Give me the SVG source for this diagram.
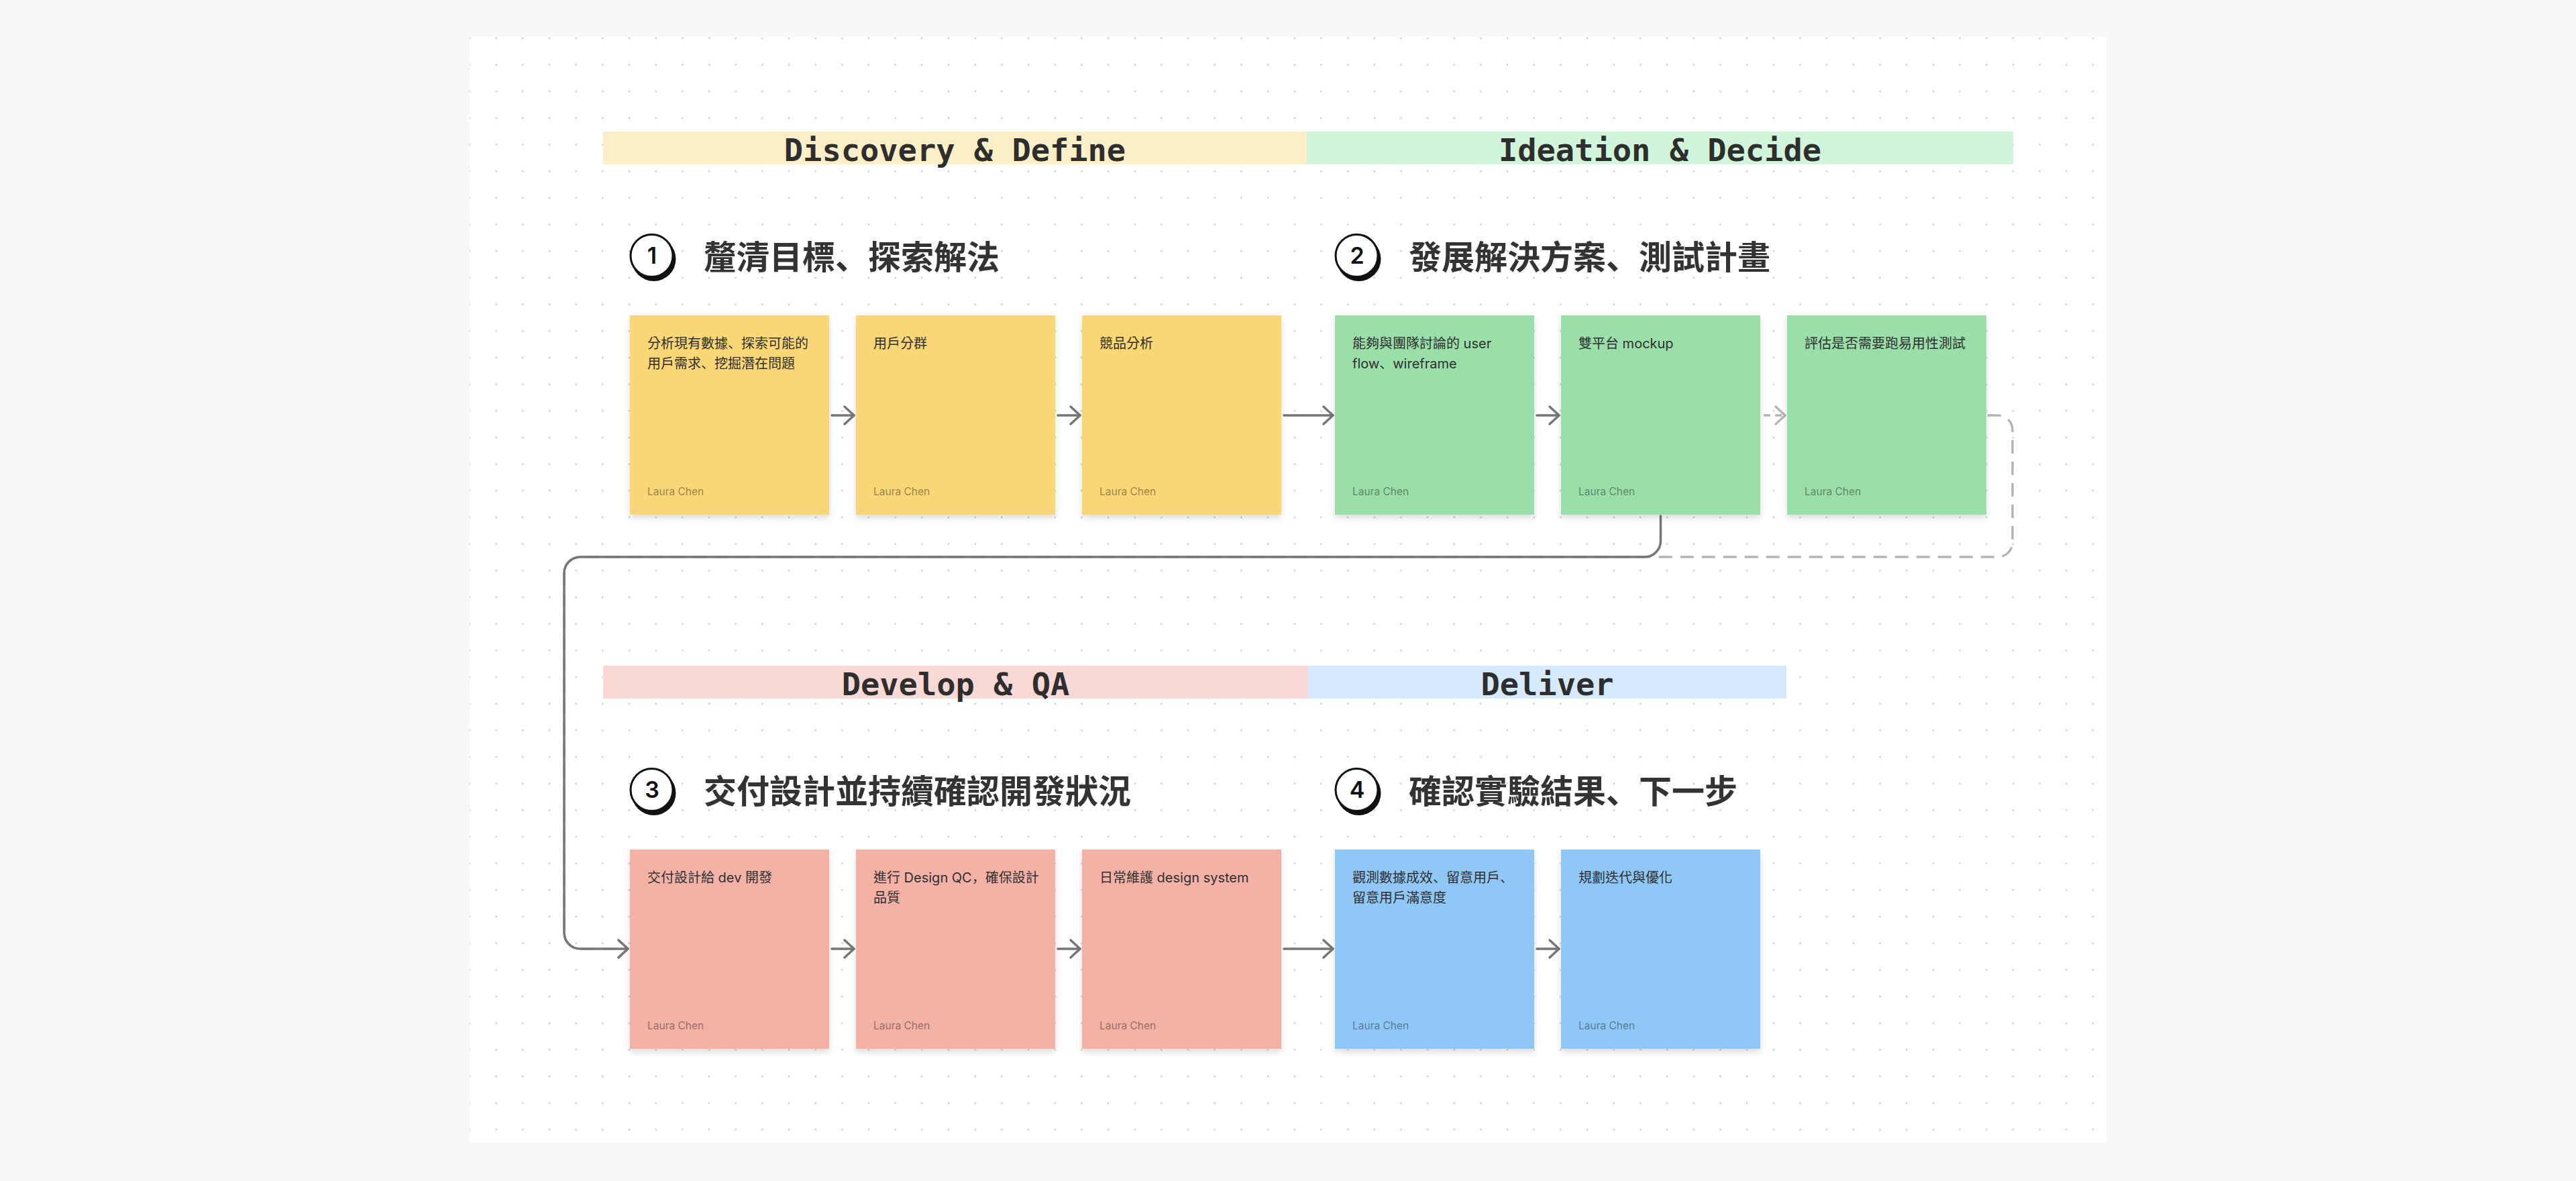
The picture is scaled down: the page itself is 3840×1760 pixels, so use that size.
<svg xmlns="http://www.w3.org/2000/svg" width="3840" height="1760" viewBox="0 0 3840 1760">
<style>
.band-t{font-family:"DejaVu Sans Mono","Liberation Mono",monospace;font-weight:700;font-size:47px;fill:#2e2e2e;text-anchor:middle}
.head-t{font-family:"Noto Sans CJK TC","Noto Sans",sans-serif;font-weight:700;font-size:49px;fill:#333333}
.num-t{font-family:"Inter","Noto Sans",sans-serif;font-weight:600;font-size:34px;fill:#111111;text-anchor:middle}
.st-t{font-family:"Inter","Noto Sans CJK TC",sans-serif;font-size:20px;fill:#2f2f2f}
.st-a{font-family:"Inter","Noto Sans",sans-serif;font-size:15.5px;fill:#000000;fill-opacity:0.42}
.p{font-family:"Noto Sans CJK SC",sans-serif}
.yel{fill:#FAD776}
.grn{fill:#9ADEA9}
.pnk{fill:#F4B2A6}
.blu{fill:#8FC8F7}
.conn{fill:none;stroke:#767676;stroke-width:3.5;stroke-linecap:round;stroke-linejoin:round}
.dash{fill:none;stroke:#b5b5b5;stroke-width:3.5;stroke-linejoin:round;stroke-dasharray:20 12}
</style>
<defs>
<pattern id="dots" x="680.165" y="37.165" width="39.67" height="39.67" patternUnits="userSpaceOnUse">
<circle cx="19.835" cy="19.835" r="1.4" fill="#cdcdcd"/>
</pattern>
<filter id="sh" x="-10%" y="-10%" width="120%" height="130%">
<feDropShadow dx="0" dy="5" stdDeviation="5" flood-color="#000000" flood-opacity="0.13"/>
</filter>
<marker id="ah" markerUnits="userSpaceOnUse" markerWidth="40" markerHeight="40" viewBox="-20 -20 40 40" refX="0" refY="0" orient="auto">
<path d="M-14,-13 L0,0 L-14,13" fill="none" stroke="#767676" stroke-width="3.5" stroke-linecap="round" stroke-linejoin="round"/>
</marker>
<marker id="ahl" markerUnits="userSpaceOnUse" markerWidth="40" markerHeight="40" viewBox="-20 -20 40 40" refX="0" refY="0" orient="auto">
<path d="M-14,-13 L0,0 L-14,13" fill="none" stroke="#b5b5b5" stroke-width="3.5" stroke-linecap="round" stroke-linejoin="round"/>
</marker>
</defs>

<rect x="0" y="0" width="3840" height="1760" fill="#F7F8FA"/>
<rect x="700" y="55" width="2440" height="1648" fill="#FFFFFF"/>
<rect x="700" y="55" width="2440" height="1648" fill="url(#dots)"/>

<g id="bands">
<g id="band-discovery"><rect x="899" y="196" width="1049" height="49" fill="#FCEFC8"/><text class="band-t" x="1423.5" y="240">Discovery &amp; Define</text></g>
<g id="band-ideation"><rect x="1948" y="196" width="1053" height="49" fill="#D1F5DA"/><text class="band-t" x="2474.5" y="240">Ideation &amp; Decide</text></g>
<g id="band-develop"><rect x="899" y="992" width="1051" height="49" fill="#F9D9D5"/><text class="band-t" x="1424.5" y="1036">Develop &amp; QA</text></g>
<g id="band-deliver"><rect x="1950" y="992" width="713" height="49" fill="#D5EAFC"/><text class="band-t" x="2306.5" y="1036">Deliver</text></g>
</g>

<g id="headings">
<g id="heading-1"><circle cx="974.5" cy="386" r="33" fill="#111"/><circle cx="971.5" cy="381" r="31.5" fill="#fff" stroke="#111" stroke-width="3"/><text class="num-t" x="972" y="393">1</text><text class="head-t" x="1049" y="401">釐清目標<tspan class="p">、</tspan>探索解法</text></g>
<g id="heading-2"><circle cx="2025.5" cy="386" r="33" fill="#111"/><circle cx="2022.5" cy="381" r="31.5" fill="#fff" stroke="#111" stroke-width="3"/><text class="num-t" x="2023" y="393">2</text><text class="head-t" x="2100" y="401">發展解決方案<tspan class="p">、</tspan>測試計畫</text></g>
<g id="heading-3"><circle cx="974.5" cy="1182" r="33" fill="#111"/><circle cx="971.5" cy="1177" r="31.5" fill="#fff" stroke="#111" stroke-width="3"/><text class="num-t" x="972" y="1189">3</text><text class="head-t" x="1049" y="1197">交付設計並持續確認開發狀況</text></g>
<g id="heading-4"><circle cx="2025.5" cy="1182" r="33" fill="#111"/><circle cx="2022.5" cy="1177" r="31.5" fill="#fff" stroke="#111" stroke-width="3"/><text class="num-t" x="2023" y="1189">4</text><text class="head-t" x="2100" y="1197">確認實驗結果<tspan class="p">、</tspan>下一步</text></g>
</g>

<g id="connectors">
<path class="dash" d="M2963,619 H2978 A22,22 0 0 1 3000,641 V808 A22,22 0 0 1 2978,830 H865 A24,24 0 0 0 841,854 V1390 A24,24 0 0 0 865,1414 H936" marker-end="url(#ahl)"/>
<path class="conn" d="M2475.5,769 V806 A24,24 0 0 1 2451.5,830 H865 A24,24 0 0 0 841,854 V1390 A24,24 0 0 0 865,1414 H936" marker-end="url(#ah)"/>
<path class="conn" d="M1240,619 H1273" marker-end="url(#ah)"/>
<path class="conn" d="M1577,619 H1610" marker-end="url(#ah)"/>
<path class="conn" d="M1914,619 H1987" marker-end="url(#ah)"/>
<path class="conn" d="M2291,619 H2324" marker-end="url(#ah)"/>
<path class="dash" style="stroke-dasharray:10 7" d="M2629,619 H2661" marker-end="url(#ahl)"/>
<path class="conn" d="M1240,1414 H1273" marker-end="url(#ah)"/>
<path class="conn" d="M1577,1414 H1610" marker-end="url(#ah)"/>
<path class="conn" d="M1914,1414 H1987" marker-end="url(#ah)"/>
<path class="conn" d="M2291,1414 H2324" marker-end="url(#ah)"/>
</g>

<g id="sticky-y1"><rect class="yel" x="939" y="470" width="297" height="297" filter="url(#sh)"/><text class="st-t" x="965" y="519">分析現有數據<tspan class="p">、</tspan>探索可能的</text><text class="st-t" x="965" y="549">用戶需求<tspan class="p">、</tspan>挖掘潛在問題</text><text class="st-a" x="965" y="738">Laura Chen</text></g>
<g id="sticky-y2"><rect class="yel" x="1276" y="470" width="297" height="297" filter="url(#sh)"/><text class="st-t" x="1302" y="519">用戶分群</text><text class="st-a" x="1302" y="738">Laura Chen</text></g>
<g id="sticky-y3"><rect class="yel" x="1613" y="470" width="297" height="297" filter="url(#sh)"/><text class="st-t" x="1639" y="519">競品分析</text><text class="st-a" x="1639" y="738">Laura Chen</text></g>
<g id="sticky-g1"><rect class="grn" x="1990" y="470" width="297" height="297" filter="url(#sh)"/><text class="st-t" x="2016" y="519">能夠與團隊討論的 user</text><text class="st-t" x="2016" y="549">flow<tspan class="p">、</tspan>wireframe</text><text class="st-a" x="2016" y="738">Laura Chen</text></g>
<g id="sticky-g2"><rect class="grn" x="2327" y="470" width="297" height="297" filter="url(#sh)"/><text class="st-t" x="2353" y="519">雙平台 mockup</text><text class="st-a" x="2353" y="738">Laura Chen</text></g>
<g id="sticky-g3"><rect class="grn" x="2664" y="470" width="297" height="297" filter="url(#sh)"/><text class="st-t" x="2690" y="519">評估是否需要跑易用性測試</text><text class="st-a" x="2690" y="738">Laura Chen</text></g>

<g id="sticky-p1"><rect class="pnk" x="939" y="1266" width="297" height="297" filter="url(#sh)"/><text class="st-t" x="965" y="1315">交付設計給 dev 開發</text><text class="st-a" x="965" y="1534">Laura Chen</text></g>
<g id="sticky-p2"><rect class="pnk" x="1276" y="1266" width="297" height="297" filter="url(#sh)"/><text class="st-t" x="1302" y="1315">進行 Design QC<tspan class="p">，</tspan>確保設計</text><text class="st-t" x="1302" y="1345">品質</text><text class="st-a" x="1302" y="1534">Laura Chen</text></g>
<g id="sticky-p3"><rect class="pnk" x="1613" y="1266" width="297" height="297" filter="url(#sh)"/><text class="st-t" x="1639" y="1315">日常維護 design system</text><text class="st-a" x="1639" y="1534">Laura Chen</text></g>
<g id="sticky-b1"><rect class="blu" x="1990" y="1266" width="297" height="297" filter="url(#sh)"/><text class="st-t" x="2016" y="1315">觀測數據成效<tspan class="p">、</tspan>留意用戶<tspan class="p">、</tspan></text><text class="st-t" x="2016" y="1345">留意用戶滿意度</text><text class="st-a" x="2016" y="1534">Laura Chen</text></g>
<g id="sticky-b2"><rect class="blu" x="2327" y="1266" width="297" height="297" filter="url(#sh)"/><text class="st-t" x="2353" y="1315">規劃迭代與優化</text><text class="st-a" x="2353" y="1534">Laura Chen</text></g>
</svg>
